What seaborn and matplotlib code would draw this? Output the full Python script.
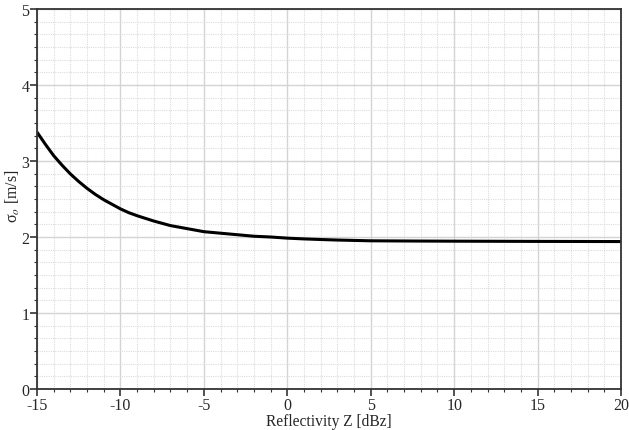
import matplotlib
matplotlib.use("Agg")
import matplotlib.pyplot as plt
from matplotlib.ticker import MultipleLocator, AutoMinorLocator
import seaborn as sns
import pandas as pd

# Data
reflectivity = [-15, -14.5, -14, -13.5, -13, -12.5, -12, -11.5, -11, -10.5, -10,
                -9.5, -9, -8.5, -8, -7.5, -7, -6.5, -6, -5.5, -5, -4, -3, -2, -1,
                0, 1, 2, 3, 4, 5, 7.5, 10, 15, 20]
sigma = [3.38, 3.22, 3.07, 2.945, 2.83, 2.73, 2.64, 2.56, 2.49, 2.43, 2.37,
         2.32, 2.28, 2.245, 2.21, 2.18, 2.15, 2.13, 2.11, 2.09, 2.07, 2.05,
         2.03, 2.01, 2.00, 1.985, 1.975, 1.967, 1.96, 1.955, 1.95, 1.947,
         1.945, 1.942, 1.94]
x_ticks = [-15, -10, -5, 0, 5, 10, 15, 20]
y_ticks = [0, 1, 2, 3, 4, 5]

df = pd.DataFrame({"Z": reflectivity, "sigma": sigma})

sns.set_theme(style="white")
plt.rcParams["font.family"] = ["Liberation Serif", "DejaVu Serif"]
plt.rcParams["mathtext.fontset"] = "stix"

fig = plt.figure(figsize=(6.29, 4.31), dpi=100)
ax = fig.add_axes([37/629, 1-390/431, (621-37)/629, (390-10)/431])

sns.lineplot(data=df, x="Z", y="sigma", ax=ax, color="black", linewidth=2.2)
for ln in ax.get_lines():
    ln.set_solid_joinstyle("round")
    ln.set_solid_capstyle("butt")

ax.set_xlim(-15, 20)
ax.set_ylim(0, 5)
ax.set_xticks(x_ticks)
ax.set_xticklabels([str(v) for v in x_ticks])
ax.set_yticks(y_ticks)
ax.set_yticklabels([str(v) for v in y_ticks])
ax.xaxis.set_minor_locator(MultipleLocator(1))
ax.yaxis.set_minor_locator(AutoMinorLocator(6))

ax.grid(which="major", color="#d4d4d4", linewidth=1.0, linestyle="-")
ax.grid(which="minor", color="#dcdcdc", linewidth=0.8, linestyle=(0, (1, 1)))
ax.set_axisbelow(True)

for s in ax.spines.values():
    s.set_color("#333333")
    s.set_linewidth(1.3)

ax.tick_params(which="major", direction="out", length=5, width=1.2, color="#333333",
               labelsize=11.5, bottom=True, left=True)
ax.tick_params(axis="x", which="major", pad=1)
ax.tick_params(axis="y", which="major", pad=0.5)
ax.tick_params(which="minor", direction="out", length=2, width=0.8, color="#333333",
               bottom=True, left=True)

ax.set_xlabel("Reflectivity Z [dBz]", fontsize=11.2)
ax.set_ylabel("σ$_o$ [m/s]", fontsize=11.5)
ax.xaxis.set_label_coords(0.5, -0.063)
ax.yaxis.set_label_coords(-0.025, 0.51)

fig.savefig("out.png", dpi=100)
